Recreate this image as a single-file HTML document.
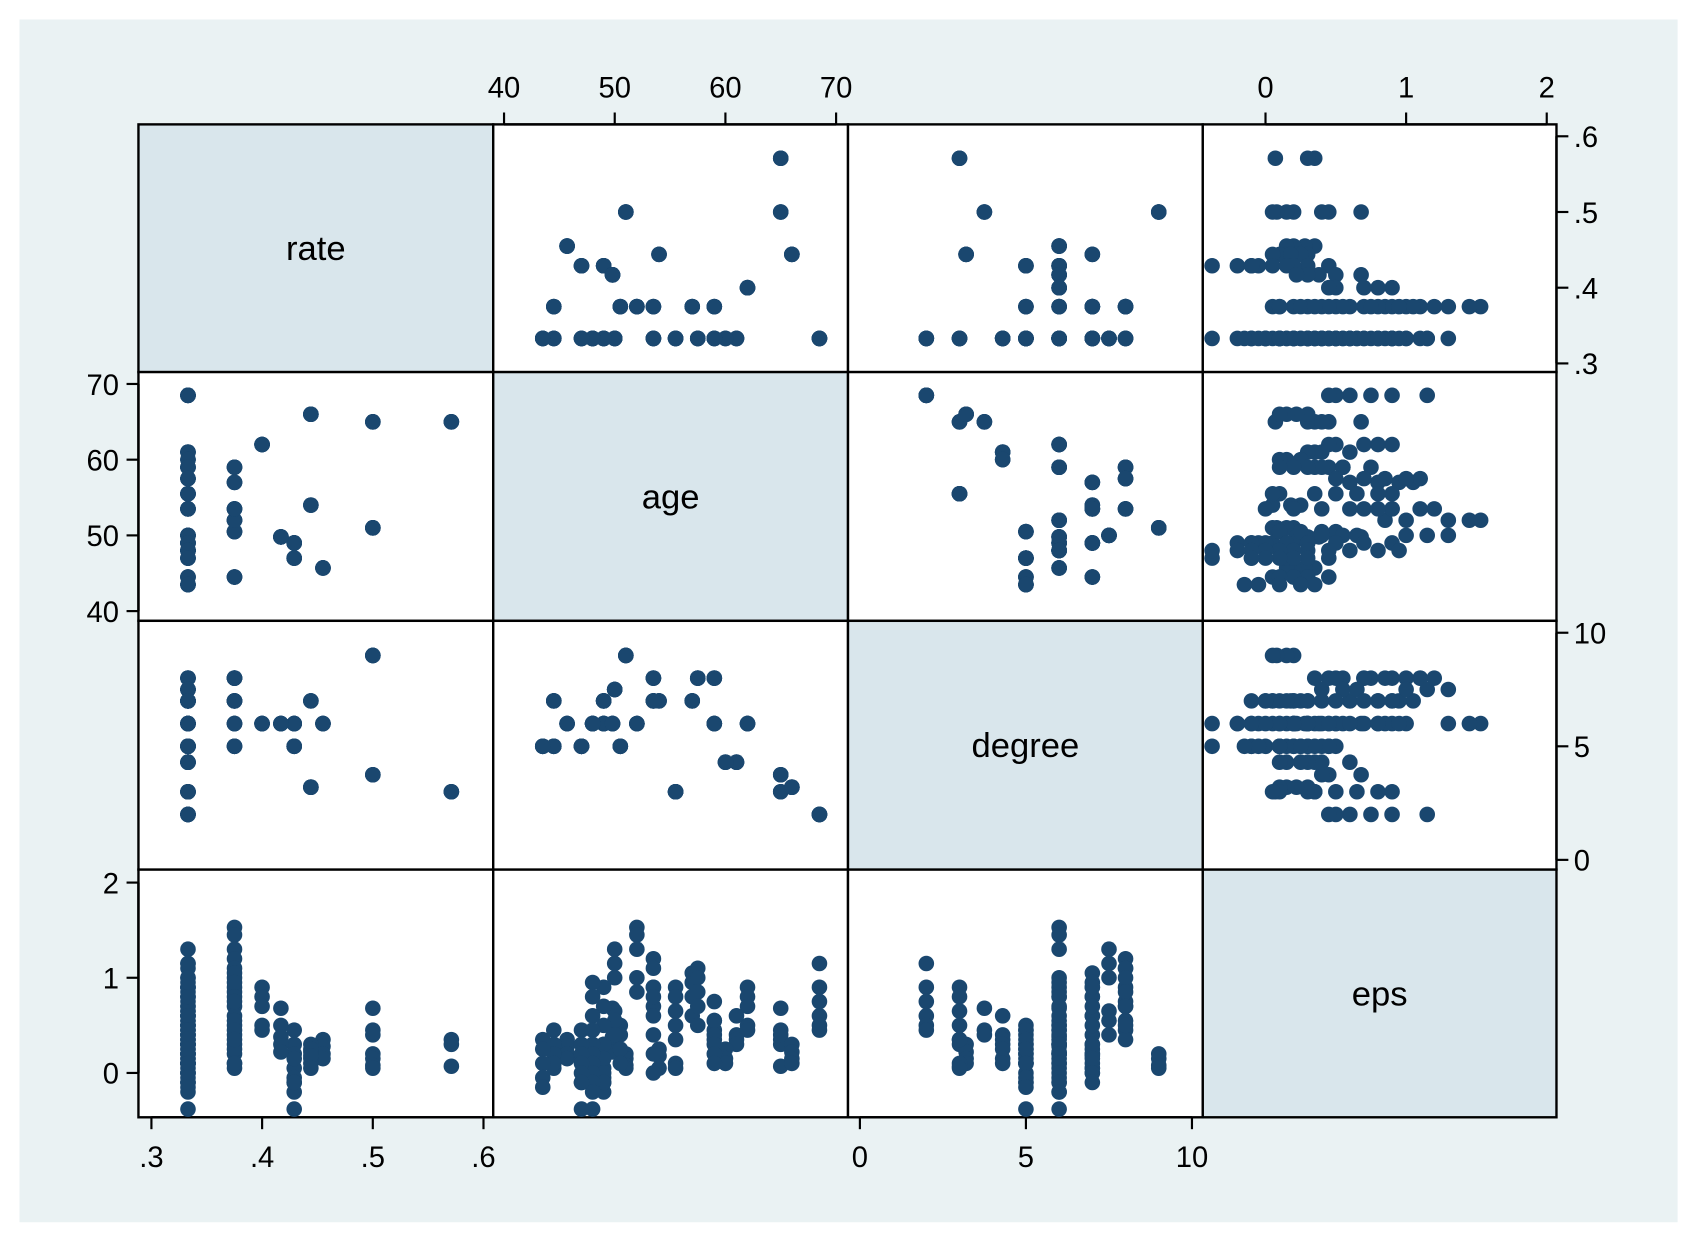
<!DOCTYPE html>
<html><head><meta charset="utf-8"><style>
html,body{margin:0;padding:0;background:#fff}
svg{display:block}
text{font-family:"Liberation Sans",sans-serif;fill:#000}
</style></head><body>
<svg id="chart" width="1696" height="1242" viewBox="0 0 1568 1148.3" preserveAspectRatio="none" xmlns="http://www.w3.org/2000/svg">
<rect x="18" y="18" width="1533" height="1112" fill="#eaf2f3"/>
<g id="panels"></g><g id="axes"></g><g id="marks"></g>
</svg>
<script>
const varNames = ["rate","age","degree","eps"];
const rateTicks = [".3",".4",".5",".6"];
const rateTickVals = [0.3,0.4,0.5,0.6];
const ageTickVals = [40,50,60,70];
const degreeTickVals = [0,5,10];
const epsTickVals = [0,1,2];
// entities: each has rate, age, degree and several eps observations
const entRate = [0.571,0.5,0.5,0.455,0.444,0.444,0.429,0.429,0.417,0.4,
  0.375,0.375,0.375,0.375,0.375,0.375,
  0.333,0.333,0.333,0.333,0.333,0.333,0.333,0.333,0.333,0.333,0.333,0.333,0.333];
const entAge = [65,65,51,45.7,66,54,49,47,49.8,62,
  44.5,50.5,52,53.5,57,59,
  68.5,61,60,59,57.5,55.5,53.5,50,49,48,47,44.5,43.5];
const entDegree = [3,3.75,9,6,3.2,7,6,5,6,6,
  7,5,6,8,7,8,
  2,4.3,4.3,6,8,3,7,7.5,7,6,5,5,5];
const entEps = [
  [0.35,0.3,0.07],[0.68,0.45,0.4],[0.2,0.15,0.08,0.05],[0.35,0.28,0.2,0.15],
  [0.3,0.22,0.15,0.1],[0.25,0.18,0.05],[0.3,0.2,0.05,-0.05,-0.1,-0.2],
  [0.45,0.15,-0.1,-0.38],[0.68,0.5,0.38,0.3,0.22],[0.9,0.8,0.7,0.5,0.45],
  [0.3,0.2,0.1,0.05],[0.5,0.4,0.25,0.1],[1.53,1.45,1.3,1.0,0.85],[1.2,1.1,0.9,0.7],
  [1.05,0.95,0.8,0.6],[0.75,0.55,0.45,0.35],
  [1.15,0.9,0.75,0.6,0.5,0.45],[0.6,0.4,0.35,0.3],[0.25,0.15,0.1],[0.55,0.4,0.3,0.2,0.1],
  [1.1,1.0,0.85,0.7,0.5],[0.9,0.8,0.65,0.5,0.35,0.1,0.05],[0.9,0.8,0.6,0.4,0.2,0.0],
  [1.3,1.15,1.0,0.65,0.55,0.4],[0.9,0.7,0.5,0.3,0.15,0.0,-0.1],
  [0.95,0.8,0.6,0.45,0.3,0.2,0.1,0.0,-0.1,-0.2,-0.38],[0.3,0.2,0.1,0.0,-0.1],
  [0.45,0.3,0.2,0.1],[0.35,0.25,0.1,-0.05,-0.15]
];

const NS="http://www.w3.org/2000/svg";
const colX=[128,456,784,1112,1439], rowY=[115,344,574,804,1033];
const dom={rate:[0.3,0.6],age:[40,70],degree:[0,10],eps:[0,2]};
const hOff={rate:[12,319],age:[10,317],degree:[11,318],eps:[58,318]};
const vOff={rate:[221,11],age:[221,11],degree:[221,11],eps:[188,12]};
function xScale(v,val){const d=dom[v],o=hOff[v],j=varNames.indexOf(v);return colX[j]+o[0]+(val-d[0])/(d[1]-d[0])*(o[1]-o[0]);}
function yScale(v,val){const d=dom[v],o=vOff[v],i=varNames.indexOf(v);return rowY[i]+o[0]+(val-d[0])/(d[1]-d[0])*(o[1]-o[0]);}
function mk(tag,attrs,parent){const e=document.createElementNS(NS,tag);for(const k in attrs)e.setAttribute(k,attrs[k]);parent.appendChild(e);return e;}

// observations
const obs=[];
entEps.forEach((arr,k)=>arr.forEach(e=>obs.push({rate:entRate[k],age:entAge[k],degree:entDegree[k],eps:e})));

const panels=document.getElementById('panels'),axes=document.getElementById('axes'),marks=document.getElementById('marks');
for(let i=0;i<4;i++)for(let j=0;j<4;j++){
  const diag=i===j;
  const r=mk('rect',{x:colX[j],y:rowY[i],width:colX[j+1]-colX[j],height:rowY[i+1]-rowY[i],fill:diag?'#d9e6ec':'#fff',stroke:'#000','stroke-width':2.2},panels);
  
  
  if(diag){
    const t=mk('text',{x:(colX[j]+colX[j+1])/2,y:(rowY[i]+rowY[i+1])/2+11,'text-anchor':'middle','font-size':32},panels);
    t.textContent=varNames[i];
    
    
    continue;
  }
  const g=mk('g',{fill:'#1a476f'},marks);
  
  
  const xv=varNames[j],yv=varNames[i];
  obs.forEach(o=>{
    const c=mk('circle',{cx:xScale(xv,o[xv]).toFixed(1),cy:yScale(yv,o[yv]).toFixed(1),r:7.2},g);
    
    
  });
}
function fmt(v,name){if(name==='rate')return rateTicks[rateTickVals.indexOf(v)];return String(v);}
const tickSets={rate:rateTickVals,age:ageTickVals,degree:degreeTickVals,eps:epsTickVals};
// top axes: age(col1), eps(col3); bottom: rate(col0), degree(col2)
[['age','top'],['eps','top'],['rate','bottom'],['degree','bottom']].forEach(([v,side])=>{
  const y0=side==='top'?rowY[0]:rowY[4];
  const dir=side==='top'?-1:1;
  const vals=tickSets[v];
  const xs=vals.map(t=>xScale(v,t));
  const ln=mk('line',{x1:Math.min(...xs),x2:Math.max(...xs),y1:y0,y2:y0,stroke:'#000','stroke-width':2.2},axes);
  
  
  vals.forEach(t=>{
    const x=xScale(v,t);
    const tk=mk('line',{x1:x,x2:x,y1:y0,y2:y0+dir*11,stroke:'#000','stroke-width':2},axes);
    
    
    const tx=mk('text',{x:x,y:side==='top'?y0-25:y0+46,'text-anchor':'middle','font-size':27},axes);
    tx.textContent=fmt(t,v);
    
    
  });
});
// left axes: age(row1), eps(row3); right: rate(row0), degree(row2)
[['age','left'],['eps','left'],['rate','right'],['degree','right']].forEach(([v,side])=>{
  const x0=side==='left'?colX[0]:colX[4];
  const dir=side==='left'?-1:1;
  const vals=tickSets[v];
  const ys=vals.map(t=>yScale(v,t));
  const ln=mk('line',{x1:x0,x2:x0,y1:Math.min(...ys),y2:Math.max(...ys),stroke:'#000','stroke-width':2.2},axes);
  
  
  vals.forEach(t=>{
    const y=yScale(v,t);
    const tk=mk('line',{x1:x0,x2:x0+dir*11,y1:y,y2:y,stroke:'#000','stroke-width':2},axes);
    
    
    const tx=mk('text',{x:side==='left'?x0-18:x0+16,y:y+10,'text-anchor':side==='left'?'end':'start','font-size':27},axes);
    tx.textContent=fmt(t,v);
    
    
  });
});
</script>
</body></html>
